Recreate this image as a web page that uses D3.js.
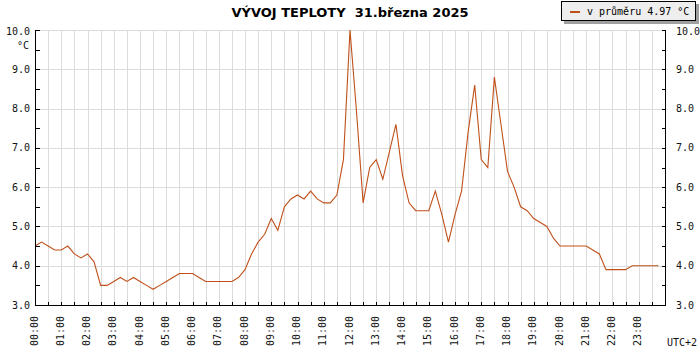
<!DOCTYPE html>
<html>
<head>
<meta charset="utf-8">
<script src="https://cdn.jsdelivr.net/npm/d3@7/dist/d3.min.js"></script>
<style>
  html, body { margin: 0; padding: 0; background: #fff; }
  svg { display: block; }
</style>
</head>
<body>
<svg id="chart" width="700" height="350"></svg>
<script>
// ---- data ----
const title = "VÝVOJ TEPLOTY  31.března 2025";
const legendLabel = "v průměru 4.97 °C";
const sampleMinutes = 15;
const temps = [
  4.5,4.6,4.5,4.4,4.4,4.5,4.3,4.2,4.3,4.1,3.5,3.5,
  3.6,3.7,3.6,3.7,3.6,3.5,3.4,3.5,3.6,3.7,3.8,3.8,
  3.8,3.7,3.6,3.6,3.6,3.6,3.6,3.7,3.9,4.3,4.6,4.8,
  5.2,4.9,5.5,5.7,5.8,5.7,5.9,5.7,5.6,5.6,5.8,6.7,
  10.0,7.9,5.6,6.5,6.7,6.2,6.9,7.6,6.3,5.6,5.4,5.4,
  5.4,5.9,5.3,4.6,5.3,5.9,7.4,8.6,6.7,6.5,8.8,7.6,
  6.4,6.0,5.5,5.4,5.2,5.1,5.0,4.7,4.5,4.5,4.5,4.5,
  4.5,4.4,4.3,3.9,3.9,3.9,3.9,4.0,4.0,4.0,4.0,4.0
];
const hourLabels = ["00:00","01:00","02:00","03:00","04:00","05:00","06:00","07:00",
  "08:00","09:00","10:00","11:00","12:00","13:00","14:00","15:00",
  "16:00","17:00","18:00","19:00","20:00","21:00","22:00","23:00"];
const yTicks = [3,4,5,6,7,8,9,10];
const yMinorTicks = [3.5,4.5,5.5,6.5,7.5,8.5,9.5];
const unit = "°C";
const tzLabel = "UTC+2";

// ---- layout ----
const L = 35, R = 665, T = 30, B = 305;
const lineColor = "#c0501a";
const gridColor = "#dcdcdc";
const mono = "'DejaVu Sans Mono', monospace";

const svg = d3.select("#chart");
const x = d3.scaleLinear().domain([0, 24]).range([L, R]);
const y = d3.scaleLinear().domain([3, 10]).range([B, T]);
const px = v => Math.round(v) + 0.5;

const points = temps.map((t, i) => ({ h: i * sampleMinutes / 60, t }));
const halfHours = d3.range(0, 48).map(i => i / 2);

// grid
const grid = svg.append("g").attr("shape-rendering", "crispEdges");
grid.selectAll(".vg").data(halfHours.filter(h => h > 0)).join("line")
  .attr("x1", d => px(x(d))).attr("x2", d => px(x(d)))
  .attr("y1", T).attr("y2", B)
  .attr("stroke", gridColor).attr("stroke-width", 1);
grid.selectAll(".hg").data(yTicks.filter(v => v > 3)).join("line")
  .attr("x1", L).attr("x2", R)
  .attr("y1", d => px(y(d))).attr("y2", d => px(y(d)))
  .attr("stroke", gridColor).attr("stroke-width", 1);

// data line
svg.append("path")
  .datum(points)
  .attr("fill", "none")
  .attr("stroke", lineColor)
  .attr("stroke-width", 1.1)
  .attr("d", d3.line().x(d => x(d.h)).y(d => y(d.t)));

// axes
const axisG = svg.append("g").attr("shape-rendering", "crispEdges");
const leftAxis = d3.axisLeft(y).tickValues(yTicks.concat(yMinorTicks)).tickSize(-4).tickFormat("");
axisG.append("g").attr("transform", `translate(${px(L)},0)`).call(leftAxis)
  .call(g => g.select(".domain").attr("d", `M0,${y(10)}V${px(B)}`));
const rightAxis = d3.axisRight(y).tickValues(yTicks.concat(yMinorTicks)).tickSize(-4).tickFormat("");
axisG.append("g").attr("transform", `translate(${px(R)},0)`).call(rightAxis)
  .call(g => g.select(".domain").attr("d", `M0,${y(10)}V${px(B)}`));
const bottomAxis = d3.axisBottom(x).tickValues(halfHours.filter(h => h > 0)).tickSize(-4).tickFormat("");
axisG.append("g").attr("transform", `translate(0,${px(B)})`).call(bottomAxis)
  .call(g => g.select(".domain").attr("d", `M${px(L)},0H${px(R)}`));
axisG.selectAll(".tick line").attr("stroke", "#000");
axisG.selectAll(".domain").attr("stroke", "#000");

// y labels
const fmt = d3.format(".1f");
svg.append("g").selectAll("text").data(yTicks).join("text")
  .attr("x", L - 5).attr("y", d => y(d) + (d === 10 ? 1.5 : 0))
  .attr("dy", "0.35em").attr("text-anchor", "end")
  .attr("font-family", mono).attr("font-size", 10).attr("fill", "#111")
  .text(d => fmt(d));
svg.append("g").selectAll("text").data(yTicks).join("text")
  .attr("x", R + 11).attr("y", d => y(d) + (d === 10 ? 1.5 : 0))
  .attr("dy", "0.35em").attr("text-anchor", "start")
  .attr("font-family", mono).attr("font-size", 10).attr("fill", "#111")
  .text(d => fmt(d));
svg.append("text")
  .attr("x", L - 6).attr("y", y(10) + 15)
  .attr("dy", "0.35em").attr("text-anchor", "end")
  .attr("font-family", mono).attr("font-size", 10).attr("fill", "#111")
  .text(unit);

// x labels
svg.append("g").selectAll("text").data(hourLabels).join("text")
  .attr("transform", (d, i) => `translate(${x(i) - 1},${B + 11}) rotate(-90)`)
  .attr("dy", "0.35em").attr("text-anchor", "end")
  .attr("font-family", mono).attr("font-size", 10).attr("fill", "#111")
  .text(d => d);
svg.append("text")
  .attr("x", R + 2).attr("y", 346)
  .attr("font-family", mono).attr("font-size", 10).attr("fill", "#111")
  .text(tzLabel);

// title
svg.append("text")
  .attr("x", 350).attr("y", 17)
  .attr("text-anchor", "middle")
  .style("white-space", "pre")
  .attr("font-family", "'DejaVu Sans', sans-serif").attr("font-weight", "bold")
  .attr("font-size", 13).attr("fill", "#000")
  .text(title);

// legend
const lg = svg.append("g").attr("shape-rendering", "crispEdges");
lg.append("rect").attr("x", 564).attr("y", 4).attr("width", 135).attr("height", 20).attr("fill", "#a0a0a0");
lg.append("rect").attr("x", 561.5).attr("y", 1.5).attr("width", 134).attr("height", 19)
  .attr("fill", "#eeeeee").attr("stroke", "#000").attr("stroke-width", 1);
lg.append("line").attr("x1", 570).attr("x2", 580).attr("y1", 11.5).attr("y2", 11.5)
  .attr("stroke", lineColor).attr("stroke-width", 2);
lg.append("text").attr("x", 587).attr("y", 11).attr("dy", "0.35em")
  .style("white-space", "pre")
  .attr("font-family", mono).attr("font-size", 10).attr("fill", "#000")
  .text(legendLabel);
</script>
</body>
</html>
